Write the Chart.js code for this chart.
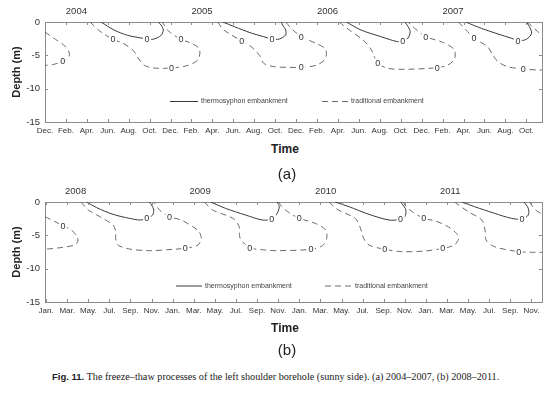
<!DOCTYPE html>
<html>
<head>
<meta charset="utf-8">
<script src="https://cdn.jsdelivr.net/npm/chart.js@4.4.1/dist/chart.umd.min.js"></script>
<style>
  body { margin: 0; background: #fff; width: 549px; height: 394px; position: relative; overflow: hidden; font-family: "Liberation Sans", Arial, sans-serif; }
  canvas { position: absolute; left: 0; }
  #chartA { top: 0; }
  #chartB { top: 180px; }
  .lbl { position: absolute; transform: translate(-50%, -50%); white-space: nowrap; color: #222; }
  .time { font-weight: bold; font-size: 12px; }
  .panel { font-size: 15px; }
  #caption { position: absolute; left: 52px; top: 371px; font-family: "Liberation Serif", "Times New Roman", serif; font-size: 10.2px; color: #222; white-space: nowrap; }
  #caption b { font-family: "Liberation Sans", Arial, sans-serif; font-size: 9.5px; }
</style>
</head>
<body>
<canvas id="chartA" width="549" height="140"></canvas>
<canvas id="chartB" width="549" height="140"></canvas>
<div class="lbl time" style="left:285px;top:149px">Time</div>
<div class="lbl panel" style="left:287px;top:173px">(a)</div>
<div class="lbl time" style="left:285px;top:328px">Time</div>
<div class="lbl panel" style="left:287px;top:349px">(b)</div>
<div id="caption"><b>Fig. 11.</b> The freeze–thaw processes of the left shoulder borehole (sunny side). (a) 2004–2007, (b) 2008–2011.</div>

<script>
// series names
const seriesNames = ['thermosyphon embankment', 'traditional embankment'];

// tick labels
const monthsA = ['Dec.', 'Feb.', 'Apr.', 'Jun.', 'Aug.', 'Oct.'];
const monthsB = ['Jan.', 'Mar.', 'May.', 'Jul.', 'Sep.', 'Nov.'];
const yearsA = ['2004', '2005', '2006', '2007'];
const yearsB = ['2008', '2009', '2010', '2011'];
const yearPosA = [3, 15, 27, 39];
const yearPosB = [2.8, 14.6, 26.5, 38.3];
const depthTicks = [0, -5, -10, -15];

// 0 degree isotherms, [month since axis start, depth (m)]
// (a) month 0 = Dec. 2003
const aTrad2003 = [[0,-1.5],[1,-2.6],[1.9,-3.6],[2.3,-4.5],[2.3,-5.2],[2,-5.7],[1.5,-6.05],[0.7,-6.4],[0,-6.5]];
const aThermo2004 = [[5.35,0],[6.6,-1.2],[7.9,-2.0],[9.2,-2.4],[9.75,-2.5],[10.3,-2.6],[11.1,-2.0],[11.3,-1.2],[11.1,-0.45],[10.8,0]];
const aTrad2004 = [[4.3,0],[5.35,-1.5],[6.5,-2.6],[7.45,-3.2],[8.4,-4.2],[8.9,-5.4],[9.5,-6.5],[10.4,-6.9],[12.1,-6.9],[13.7,-6.5],[14.6,-5.7],[14.8,-4.7],[14.7,-3.9],[14,-3.2],[13,-2.6],[11.9,-1.5],[11.4,-0.45],[11.2,0]];
const aThermo2005 = [[17.0,0],[18.1,-0.7],[19.7,-1.65],[20.9,-2.2],[21.7,-2.55],[22.4,-2.55],[23,-1.95],[23,-1.2],[22.7,-0.45],[22.6,0]];
const aTrad2005 = [[16.5,0],[17.1,-1.2],[18.8,-2.85],[19.7,-3.7],[20.5,-5],[20.9,-6.2],[21.9,-6.7],[23.2,-6.8],[24.5,-6.8],[25.9,-6.5],[26.7,-5.7],[26.9,-4.7],[26.7,-3.9],[25.9,-3.2],[24.5,-2.2],[23.7,-1.2],[23.2,-0.35],[23,0]];
const aThermo2006 = [[28.8,0],[30.2,-1.2],[32.1,-2.2],[33.7,-2.95],[34.2,-2.8],[34.7,-2.4],[34.9,-1.45],[34.7,-0.7],[34.4,0]];
const aTrad2006 = [[28.1,0],[29.3,-1.45],[30.4,-2.7],[31.2,-4.2],[31.8,-6.2],[32.8,-6.95],[34.3,-7.1],[37.5,-6.85],[38.5,-6.45],[39.1,-5.7],[39.2,-4.95],[39.1,-4.1],[38.1,-3.1],[36.4,-2.2],[35.3,-0.9],[34.7,0]];
const aThermo2007 = [[40.2,0],[41.7,-0.95],[43.3,-1.8],[44.6,-2.45],[45.2,-2.8],[46,-2.6],[46.5,-1.7],[46.3,-0.7],[46,0]];
const aTrad2007 = [[39.5,0],[40.4,-1.45],[41,-2.45],[42.3,-3.7],[42.8,-5],[43.3,-5.95],[44.2,-6.7],[45.7,-7.05],[47.1,-7.2],[47.6,-7.2]];
const aTrad2007b = [[46.1,0],[47.1,-1.45],[47.6,-2.1]];
const aLabels = [[1.7,-5.8],[9.75,-2.5],[6.5,-2.6],[12.1,-6.9],[13,-2.6],[21.7,-2.55],[18.8,-2.85],[24.5,-6.8],[24.5,-2.2],[34.2,-2.8],[31.8,-6.2],[37.5,-6.85],[36.4,-2.2],[45.2,-2.8],[41,-2.45],[45.7,-7.05]];

// (b) month 0 = Jan. 2008
const bTrad2007 = [[-0.1,-2.2],[0.85,-2.95],[1.6,-3.55],[2.4,-4.2],[2.95,-5.2],[3,-5.95],[2.7,-6.45],[1.6,-6.8],[-0.1,-7.1]];
const bThermo2008 = [[3.85,0],[4.8,-0.85],[6.35,-1.85],[7.9,-2.45],[8.9,-2.7],[9.55,-2.45],[10.1,-1.95],[10.2,-1.2],[10,-0.45],[9.8,0]];
const bTrad2008 = [[3.3,0],[4,-1.2],[5.1,-2.2],[6.35,-3.45],[6.6,-4.45],[6.6,-5.45],[6.8,-6.45],[7.9,-7.05],[9.8,-7.3],[12,-7.1],[13.2,-6.95],[14.4,-6.45],[14.7,-5.45],[14.5,-4.45],[13.9,-3.7],[12.8,-2.7],[11.7,-2.2],[10.75,-1.2],[10.3,-0.2],[10.1,0]];
const bThermo2009 = [[15.6,0],[17,-0.95],[18.9,-1.95],[20.5,-2.7],[21.4,-2.55],[21.9,-1.7],[22.1,-0.7],[21.9,0]];
const bTrad2009 = [[15,0],[15.8,-1.2],[17.7,-2.45],[18.3,-3.7],[18.4,-5.45],[19.3,-6.85],[20.8,-7.2],[21.8,-7.3],[25.1,-7.1],[26.2,-6.55],[26.6,-5.45],[26.5,-4.2],[25.5,-3.2],[24,-2.45],[22.9,-1.45],[22.2,-0.45],[22.1,0]];
const bThermo2010 = [[27.4,0],[28.7,-0.7],[30.6,-1.85],[32.5,-2.7],[33.6,-2.6],[34,-2.2],[34.1,-1.2],[33.7,-0.2],[33.6,0]];
const bTrad2010 = [[26.8,0],[27.7,-1.2],[29.3,-2.45],[29.8,-3.95],[30.1,-5.45],[30.6,-6.45],[32.1,-7.1],[33.7,-7.45],[35.9,-7.35],[37.6,-6.95],[38.7,-6.45],[39.1,-5.45],[38.9,-4.7],[38.1,-3.7],[36.9,-2.85],[35.8,-2.45],[34.7,-1.45],[34,-0.45],[33.9,0]];
const bThermo2011 = [[39.4,0],[40.6,-0.7],[42.5,-1.7],[44.1,-2.45],[45.1,-2.55],[45.7,-1.95],[45.7,-0.95],[45.3,0]];
const bTrad2011 = [[38.7,0],[40,-1.45],[41.3,-2.7],[41.6,-4.2],[41.7,-5.7],[42.5,-6.7],[44.8,-7.45],[46.3,-7.55],[47.2,-7.55]];
const bTrad2011b = [[45.8,0],[46.4,-1.2],[47.2,-2]];
const bLabels = [[1.6,-3.55],[9.55,-2.45],[13.2,-6.95],[11.7,-2.2],[21.4,-2.55],[19.3,-6.85],[25.1,-7.1],[24,-2.45],[33.6,-2.6],[32.1,-7.1],[37.6,-6.95],[35.8,-2.45],[45.1,-2.55],[44.8,-7.45]];

const FRAME = '#8c8c8c';
const INK = '#333';
const styles = {
    thermo: { borderColor: '#3a3a3a', borderDash: [] },
    trad: { borderColor: '#6a6a6a', borderDash: [6, 4] }
};

Chart.defaults.font.family = '"Liberation Sans", Arial, sans-serif';

// labels on the isotherms, legend and inward tick marks
const decor = {
    id: 'decor',
    afterDatasetsDraw(chart, args, opts) {
        const { ctx, chartArea: area, scales: { x, y } } = chart;
        ctx.save();
        ctx.font = '9px "Liberation Sans", Arial, sans-serif';
        ctx.textAlign = 'center';
        ctx.textBaseline = 'middle';
        opts.labels.forEach(([t, d]) => {
            const px = x.getPixelForValue(t), py = y.getPixelForValue(d);
            ctx.fillStyle = '#fff';
            ctx.fillRect(px - 4, py - 5, 8, 10);
            ctx.fillStyle = INK;
            ctx.fillText('0', px, py + 0.5);
        });

        // legend
        const ly = area.top + opts.legendY;
        ctx.font = '7px "Liberation Sans", Arial, sans-serif';
        ctx.textAlign = 'left';
        opts.legend.forEach((item, i) => {
            const st = i === 0 ? styles.thermo : styles.trad;
            ctx.strokeStyle = st.borderColor;
            ctx.lineWidth = 1;
            ctx.setLineDash(st.borderDash);
            ctx.beginPath();
            ctx.moveTo(item[0], ly);
            ctx.lineTo(item[1], ly);
            ctx.stroke();
            ctx.setLineDash([]);
            ctx.fillStyle = '#444';
            ctx.fillText(seriesNames[i], item[1] + 3, ly);
        });
        ctx.restore();
    },
    afterDraw(chart) {
        const { ctx, chartArea: area, scales: { x, y } } = chart;
        ctx.save();
        ctx.strokeStyle = FRAME;
        ctx.lineWidth = 1;
        ctx.beginPath();
        x.ticks.forEach(tk => {
            const px = Math.round(x.getPixelForValue(tk.value)) + 0.5;
            ctx.moveTo(px, area.bottom); ctx.lineTo(px, area.bottom - 3);
            ctx.moveTo(px, area.top); ctx.lineTo(px, area.top + 3);
        });
        y.ticks.forEach(tk => {
            const py = Math.round(y.getPixelForValue(tk.value)) + 0.5;
            ctx.moveTo(area.left, py); ctx.lineTo(area.left + 3, py);
            ctx.moveTo(area.right, py); ctx.lineTo(area.right - 3, py);
        });
        ctx.stroke();
        ctx.restore();
    }
};

function makeChart(id, series, labels, months, years, yearPos, xMin, xMax, legend, legendY) {
    const monthTicks = Array.from({ length: 24 }, (_, i) => i * 2);
    const datasets = series.map(([kind, pts], i) => ({
        label: i < 2 ? seriesNames[kind === 'thermo' ? 0 : 1] : '',
        data: pts.map(([t, d]) => ({ x: t, y: d })),
        borderColor: styles[kind].borderColor,
        borderDash: styles[kind].borderDash,
        borderWidth: 1,
        pointRadius: 0,
        tension: 0.3,
        fill: false
    }));
    const noGrid = { display: false, drawTicks: false, tickLength: 0 };

    return new Chart(document.getElementById(id), {
        type: 'line',
        data: { datasets },
        options: {
            responsive: false,
            animation: false,
            layout: { padding: 0 },
            plugins: {
                legend: { display: false },
                tooltip: { enabled: false },
                decor: { labels, legend, legendY }
            },
            scales: {
                x: {
                    type: 'linear', position: 'bottom', min: xMin, max: xMax,
                    afterBuildTicks: s => { s.ticks = monthTicks.map(v => ({ value: v })); },
                    afterFit: s => { s.height = 18; },
                    grid: noGrid,
                    border: { color: FRAME },
                    ticks: { autoSkip: false, maxRotation: 0, padding: 4, color: INK, font: { size: 8 },
                        callback: (v, i) => months[i % 6] }
                },
                x2: {
                    type: 'linear', position: 'top', min: xMin, max: xMax,
                    afterBuildTicks: s => { s.ticks = yearPos.map(v => ({ value: v })); },
                    afterFit: s => { s.height = 22; },
                    grid: noGrid,
                    border: { color: FRAME },
                    ticks: { autoSkip: false, maxRotation: 0, padding: 5, color: INK, font: { size: 9.5 },
                        callback: (v, i) => years[i] }
                },
                y: {
                    type: 'linear', position: 'left', min: -15, max: 0,
                    afterBuildTicks: s => { s.ticks = depthTicks.map(v => ({ value: v })); },
                    afterFit: s => { s.width = 45; },
                    grid: noGrid,
                    border: { color: FRAME },
                    ticks: { padding: 5, color: INK, font: { size: 9.5 } },
                    title: { display: true, text: 'Depth (m)', color: '#222', font: { size: 11, weight: 'bold' }, padding: { top: 10, bottom: 0 } }
                },
                y2: {
                    type: 'linear', position: 'right', min: -15, max: 0,
                    afterFit: s => { s.width = 7; },
                    grid: noGrid,
                    border: { color: FRAME },
                    ticks: { display: false }
                }
            }
        },
        plugins: [decor]
    });
}

makeChart('chartA', [
    ['thermo', aThermo2004], ['trad', aTrad2004], ['trad', aTrad2003],
    ['thermo', aThermo2005], ['trad', aTrad2005],
    ['thermo', aThermo2006], ['trad', aTrad2006],
    ['thermo', aThermo2007], ['trad', aTrad2007], ['trad', aTrad2007b]
], aLabels, monthsA, yearsA, yearPosA, 0, 47.5, [[170, 198], [322, 348]], 79.5);

makeChart('chartB', [
    ['thermo', bThermo2008], ['trad', bTrad2008], ['trad', bTrad2007],
    ['thermo', bThermo2009], ['trad', bTrad2009],
    ['thermo', bThermo2010], ['trad', bTrad2010],
    ['thermo', bThermo2011], ['trad', bTrad2011], ['trad', bTrad2011b]
], bLabels, monthsB, yearsB, yearPosB, -0.1, 47, [[176, 202], [325, 352]], 84);
</script>
</body>
</html>
